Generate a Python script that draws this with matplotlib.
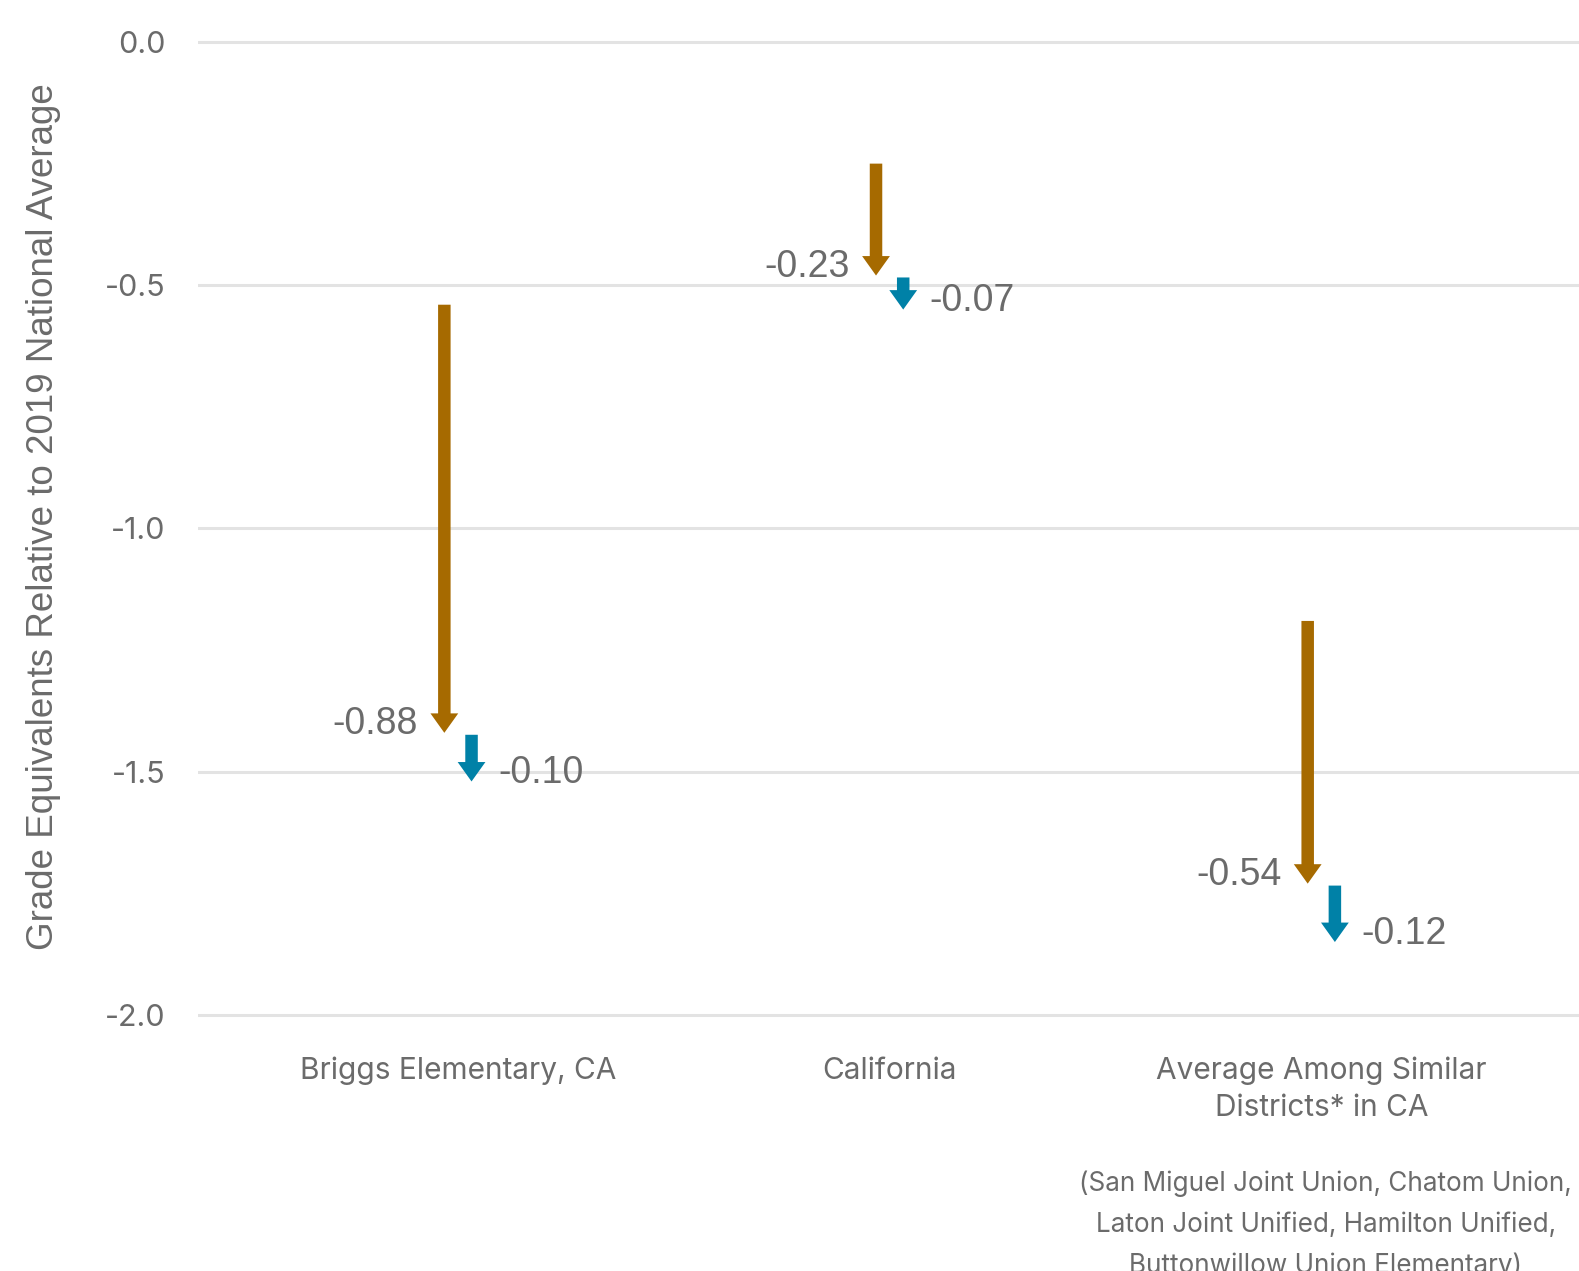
import matplotlib
matplotlib.use('Agg')
import matplotlib.pyplot as plt

# data
categories = ["Briggs Elementary, CA", "California", "Average Among Similar\nDistricts* in CA"]
start_vals = [-0.54, -0.25, -1.19]
drop_first = [-0.88, -0.23, -0.54]
drop_second = [-0.10, -0.07, -0.12]
yticks = [0.0, -0.5, -1.0, -1.5, -2.0]
footnote = "(San Miguel Joint Union, Chatom Union,\nLaton Joint Unified, Hamilton Unified,\nButtonwillow Union Elementary)"

brown = '#a66a00'
blue = '#0081a7'
grey = '#6b6b6b'
num_font = 'Liberation Sans'
cat_font = 'Inter'

W, H = 1579, 1271
fig = plt.figure(figsize=(W / 100, H / 100), dpi=100)

# axes placement: y 0 at px 42, -2 at px 1015, plus small margin
ppu = 486.5
top_px = 42 - 0.05 * ppu
bot_px = 42 + 2.05 * ppu
left_px = 198.5
ax = fig.add_axes([left_px / W, 1 - bot_px / H, 1 - left_px / W, (bot_px - top_px) / H])
ax.set_ylim(-2.05, 0.05)
ax.set_xlim(-0.601, 2.597)

for s in ax.spines.values():
    s.set_visible(False)
ax.set_yticks(yticks)
ax.set_yticklabels([f"{t:.1f}" for t in yticks], fontsize=22, color=grey, fontname=cat_font)
ax.tick_params(axis='y', length=0, pad=24)
ax.grid(axis='y', color='#e3e3e3', linewidth=2.2)
ax.set_axisbelow(True)
ax.set_xticks([])

ax.set_ylabel("Grade Equivalents Relative to 2019 National Average", fontsize=26.5,
              color=grey, fontname=num_font)
ax.yaxis.set_label_coords(-0.0993, 0.512)

off = 0.0315
arrow_kw = dict(width=9, headwidth=20, headlength=14, shrink=0)
for i in range(len(categories)):
    y0 = start_vals[i]
    y1 = y0 + drop_first[i]
    y2 = y1 + drop_second[i]
    ax.annotate("", xy=(i - off, y1), xytext=(i - off, y0),
                arrowprops=dict(facecolor=brown, edgecolor='none', **arrow_kw))
    ax.annotate("", xy=(i + off, y2), xytext=(i + off, y1 - 0.004),
                arrowprops=dict(facecolor=blue, edgecolor='none', **arrow_kw))
    ax.annotate(f"{drop_first[i]:.2f}", xy=(i - off, y1), xytext=(-19, 6),
                textcoords='offset points', ha='right', va='center',
                fontsize=27, color=grey, fontname=num_font)
    ax.annotate(f"{drop_second[i]:.2f}", xy=(i + off, y2), xytext=(19, 6),
                textcoords='offset points', ha='left', va='center',
                fontsize=27, color=grey, fontname=num_font)
    ax.text(i, -2.086, categories[i], ha='center', va='top', fontsize=21.5,
            color=grey, fontname=cat_font, linespacing=1.39)

ax.text(2.01, -2.32, footnote, ha='center', va='top', fontsize=18.8,
        color=grey, fontname=cat_font, linespacing=1.72)

fig.savefig('out.png', dpi=100)
